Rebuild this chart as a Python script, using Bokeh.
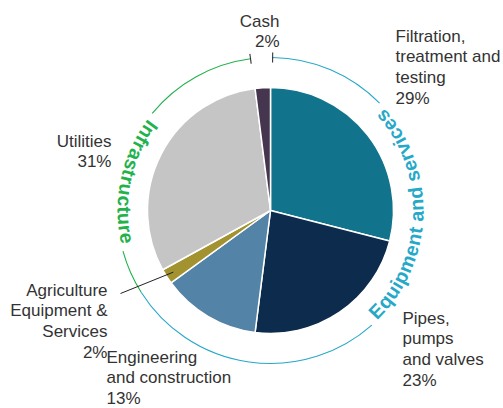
import numpy as np
from bokeh.plotting import figure
from bokeh.models import Range1d
from bokeh.embed import file_html
from bokeh.resources import INLINE
from bokeh.core.properties import value

# ---------------- data ----------------
categories = ["Filtration, treatment and testing", "Pipes, pumps and valves",
              "Engineering and construction", "Agriculture Equipment & Services",
              "Utilities", "Cash"]
shares = [29, 23, 13, 2, 31, 2]
slice_labels = ["Filtration,\ntreatment and\ntesting\n29%",
                "Pipes,\npumps\nand valves\n23%",
                "Engineering\nand construction\n13%",
                "Agriculture\nEquipment &\nServices\n2%",
                "Utilities\n31%",
                "Cash\n2%"]
slice_colors = ["#12748c", "#0c2b4d", "#5383a6", "#a39230", "#c4c5c4", "#46354e"]

group_names = ["Equipment and services", "Infrastructure"]
group_colors = ["#26a8c8", "#22b24c"]

# ---------------- layout ----------------
R_PIE = 123
R_ARC = 153
R_TXT = 146
ARC_FS = 19.5
LBL_FS = 17
group_text_center = [-2.0, 168.0]  # degrees

# label anchors (x, y_top, align)
label_pos = [(125, 184, "left"), (132, -98, "left"), (-164, -137, "left"),
             (-163, -70, "right"), (-159, 79, "right"), (9, 199, "right")]

# Arial Bold advance widths (per 1000 em)
W = {" ": 278, "&": 722, "E": 667, "I": 278, "a": 556, "c": 556, "d": 611,
     "e": 556, "f": 333, "i": 278, "m": 889, "n": 611, "p": 611, "q": 611,
     "r": 389, "s": 556, "t": 333, "u": 611, "v": 556}

p = figure(width=503, height=408, x_range=Range1d(-270, 233), y_range=Range1d(-198, 210),
           toolbar_location=None, output_backend="svg", min_border=0)
p.xaxis.visible = False
p.yaxis.visible = False
p.xgrid.visible = False
p.ygrid.visible = False
p.outline_line_color = None
p.background_fill_color = "white"

frac = np.array(shares, dtype=float) / sum(shares)
cum = np.concatenate([[0.0], np.cumsum(frac)])
start = np.pi / 2 - 2 * np.pi * cum[1:]
end = np.pi / 2 - 2 * np.pi * cum[:-1]

p.wedge(x=0, y=0, radius=R_PIE, start_angle=start, end_angle=end,
        fill_color=slice_colors, line_color="white", line_width=1.5)

# ---------- group arcs ----------
mid_ag = (start[3] + end[3]) / 2            # split between the two arcs (~ -148 deg)
eq_lo = mid_ag                              # ~ -148 deg
eq_hi = end[0] - np.deg2rad(0.8)            # ~ 89 deg
inf_lo = end[5] + 2 * np.pi + np.deg2rad(0.3)   # ~ 97.5 deg (after cash slice)
inf_hi = mid_ag + 2 * np.pi                 # ~ 212 deg
arc_ranges = [(eq_lo, eq_hi), (inf_lo, inf_hi)]
tick_angles = [eq_hi, inf_lo]

for gi, name in enumerate(group_names):
    lo, hi = arc_ranges[gi]
    w = np.array([W[c] for c in name]) / 1000.0 * ARC_FS
    total = w.sum()
    cen = np.deg2rad(group_text_center[gi])
    half = total / (2 * R_TXT)
    pad = np.deg2rad(2.5)
    g0, g1 = cen - half - pad, cen + half + pad
    p.arc(x=0, y=0, radius=R_ARC, start_angle=[lo, g1], end_angle=[g0, hi],
          line_color=group_colors[gi], line_width=1.1)
    t = tick_angles[gi]
    p.segment(x0=(R_ARC - 5) * np.cos(t), y0=(R_ARC - 5) * np.sin(t),
              x1=(R_ARC + 5) * np.cos(t), y1=(R_ARC + 5) * np.sin(t),
              line_color="#333333", line_width=1.1)
    pos = np.cumsum(w) - w / 2
    phi = cen - half + pos / R_TXT
    p.text(x=R_TXT * np.cos(phi), y=R_TXT * np.sin(phi), text=list(name),
           angle=phi + np.pi / 2, text_align="center", text_baseline="middle",
           text_font=value("Liberation Sans"), text_font_style="bold",
           text_font_size=f"{ARC_FS}px", text_color=group_colors[gi])

# ---------- leader line for small agriculture slice ----------
p.segment(x0=(R_PIE - 8) * np.cos(mid_ag), y0=(R_PIE - 8) * np.sin(mid_ag),
          x1=-150, y1=-83, line_color="#222222", line_width=1)

# ---------- labels ----------
for align in ["left", "right"]:
    idx = [i for i in range(len(slice_labels)) if label_pos[i][2] == align]
    p.text(x=[label_pos[i][0] for i in idx], y=[label_pos[i][1] for i in idx],
           text=[slice_labels[i] for i in idx], text_align=align, text_baseline="top",
           text_font=value("Liberation Sans"), text_font_size=f"{LBL_FS}px",
           text_line_height=1.09, text_color="#333333")

open("out.html", "w").write(file_html(p, INLINE))
